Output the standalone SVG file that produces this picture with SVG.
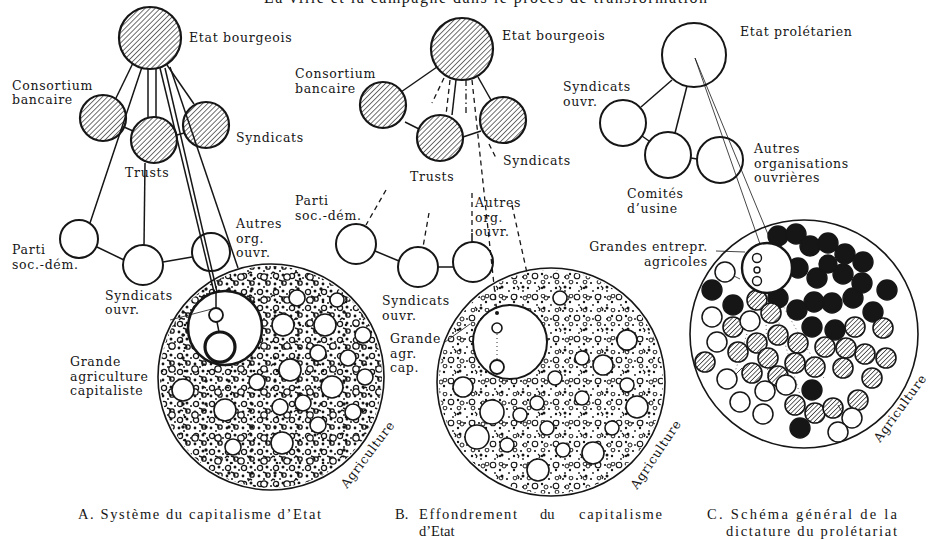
<svg xmlns="http://www.w3.org/2000/svg" width="931" height="540" viewBox="0 0 931 540">
<style>
.lbl{font-family:"DejaVu Serif","Liberation Serif",serif;font-size:12.5px;letter-spacing:0.7px;fill:#161616}
.cap{font-family:"Liberation Serif",serif;font-size:14.5px;fill:#161616}
.hc{fill:url(#hatch);stroke:#161616;stroke-width:2.2}
.wc{fill:#fff;stroke:#161616;stroke-width:2}
.big{fill:#fff;stroke:#161616;stroke-width:1.6}
.mc{fill:#fff;stroke:#161616;stroke-width:1.6}
.ln{stroke:#161616;stroke-width:1.5;fill:none}
.th{stroke:#161616;stroke-width:0.8;fill:none}
.dl{stroke:#161616;stroke-width:1.3;stroke-dasharray:5 4;fill:none}
.dd{stroke:#161616;stroke-width:1.3;stroke-dasharray:6 3 1.5 3;fill:none}
.dt{stroke:#555;stroke-width:0.9;stroke-dasharray:1 3;fill:none}
.cb{fill:#161616;stroke:#161616;stroke-width:1.4}
.ch{fill:url(#hatch2);stroke:#161616;stroke-width:1.6}
.cw{fill:#fff;stroke:#161616;stroke-width:1.5}
</style>
<defs>
<pattern id="hatch" width="3.6" height="3.6" patternUnits="userSpaceOnUse" patternTransform="rotate(45)">
<rect width="3.6" height="3.6" fill="#fff"/>
<line x1="0" y1="0" x2="0" y2="3.6" stroke="#222" stroke-width="1.3"/>
</pattern>
<pattern id="hatch2" width="3.2" height="3.2" patternUnits="userSpaceOnUse" patternTransform="rotate(45)">
<rect width="3.2" height="3.2" fill="#fff"/>
<line x1="0" y1="0" x2="0" y2="3.2" stroke="#222" stroke-width="1.4"/>
</pattern>
<pattern id="texA1" width="16" height="16" patternUnits="userSpaceOnUse">
<circle cx="4" cy="4" r="2.6" fill="none" stroke="#151515" stroke-width="1.3"/>
<circle cx="12" cy="11" r="2.2" fill="none" stroke="#151515" stroke-width="1.3"/>
<circle cx="11" cy="3" r="1.5" fill="#151515"/>
<circle cx="3" cy="12" r="1.4" fill="#151515"/>
<circle cx="8" cy="15" r="1" fill="#151515"/>
<circle cx="15" cy="6" r="1" fill="#151515"/>
<path d="M7 8 l3 1 l1 3" fill="none" stroke="#151515" stroke-width="1.5"/>
</pattern>
<pattern id="texA2" x="5" y="7" width="23" height="23" patternUnits="userSpaceOnUse">
<circle cx="6" cy="17" r="3.2" fill="#fff" stroke="#151515" stroke-width="1.3"/>
<circle cx="17" cy="6" r="1.7" fill="#151515"/>
<circle cx="19" cy="19" r="1.3" fill="#151515"/>
<path d="M13 14 l2 -2 l2 1" fill="none" stroke="#151515" stroke-width="1.4"/>
</pattern>
<pattern id="texB1" width="14" height="14" patternUnits="userSpaceOnUse">
<circle cx="3" cy="3" r="1.1" fill="#151515"/>
<circle cx="10" cy="8" r="1.2" fill="#151515"/>
<circle cx="5" cy="11" r="0.9" fill="#151515"/>
<circle cx="11" cy="2" r="1.9" fill="none" stroke="#151515" stroke-width="1"/>
</pattern>
<pattern id="texB2" x="4" y="9" width="21" height="21" patternUnits="userSpaceOnUse">
<circle cx="6" cy="15" r="2.8" fill="#fff" stroke="#151515" stroke-width="1.1"/>
<circle cx="15" cy="5" r="1.5" fill="#151515"/>
<circle cx="17" cy="16" r="2" fill="none" stroke="#151515" stroke-width="1"/>
<path d="M9 4 l2 2 l-1 2" fill="none" stroke="#151515" stroke-width="1.2"/>
</pattern>
<clipPath id="clipA"><circle cx="271" cy="377" r="111"/></clipPath>
<clipPath id="clipB"><circle cx="551" cy="382" r="112"/></clipPath>
</defs>
<rect width="931" height="540" fill="#fff"/>
<text x="264" y="3" textLength="443" style="font-family:'Liberation Serif',serif;font-size:16px;fill:#161616">La ville et la campagne dans le procès de transformation</text>

<!-- Panel A agriculture -->
<g id="agri-a">
<circle class="big" cx="271" cy="377" r="113"/>
<g clip-path="url(#clipA)">
<rect x="150" y="260" width="245" height="240" fill="url(#texA1)"/>
<rect x="150" y="260" width="245" height="240" fill="url(#texA2)"/>
</g>
<g class="mc">
<circle cx="297" cy="298" r="8"/><circle cx="337" cy="300" r="7"/><circle cx="283" cy="325" r="11"/><circle cx="325" cy="325" r="11"/>
<circle cx="363" cy="335" r="8"/><circle cx="318" cy="353" r="8"/><circle cx="348" cy="358" r="8"/><circle cx="290" cy="370" r="11"/>
<circle cx="257" cy="382" r="8"/><circle cx="332" cy="387" r="11"/><circle cx="365" cy="377" r="8"/><circle cx="183" cy="390" r="11"/>
<circle cx="225" cy="410" r="11"/><circle cx="280" cy="407" r="8"/><circle cx="303" cy="403" r="8"/><circle cx="353" cy="412" r="8"/>
<circle cx="318" cy="425" r="8"/><circle cx="282" cy="443" r="11"/><circle cx="233" cy="447" r="8"/>
</g>
<circle cx="225" cy="328" r="37" fill="#fff" stroke="#161616" stroke-width="2.6"/>
<circle cx="216" cy="315" r="7" fill="#fff" stroke="#161616" stroke-width="1.8"/>
<circle cx="220" cy="347" r="15" fill="#fff" stroke="#161616" stroke-width="3.2"/>
<text class="lbl" transform="translate(347,489) rotate(-53)">Agriculture</text>
<text class="lbl" x="70" y="366">Grande</text>
<text class="lbl" x="70" y="380.6">agriculture</text>
<text class="lbl" x="70" y="395.2">capitaliste</text>
</g>

<!-- Panel B agriculture -->
<g id="agri-b">
<circle class="big" cx="551" cy="382" r="114"/>
<g clip-path="url(#clipB)">
<rect x="430" y="262" width="245" height="240" fill="url(#texB1)"/>
<rect x="430" y="262" width="245" height="240" fill="url(#texB2)"/>
</g>
<g class="mc">
<circle cx="560" cy="298" r="7"/><circle cx="627" cy="340" r="10"/><circle cx="582" cy="358" r="7"/><circle cx="603" cy="365" r="10"/>
<circle cx="555" cy="378" r="7"/><circle cx="463" cy="387" r="10"/><circle cx="627" cy="385" r="7"/><circle cx="582" cy="398" r="7"/>
<circle cx="537" cy="403" r="7"/><circle cx="637" cy="407" r="11"/><circle cx="492" cy="412" r="12"/><circle cx="520" cy="415" r="7"/>
<circle cx="547" cy="428" r="7"/><circle cx="612" cy="428" r="7"/><circle cx="477" cy="437" r="12"/><circle cx="507" cy="445" r="7"/>
<circle cx="563" cy="450" r="7"/><circle cx="593" cy="453" r="11"/><circle cx="538" cy="470" r="11"/>
</g>
<circle cx="510" cy="342" r="37" fill="#fff" stroke="#161616" stroke-width="2"/>
<circle cx="497" cy="313" r="2" fill="#161616"/>
<circle cx="497" cy="328" r="5" fill="#fff" stroke="#161616" stroke-width="1.6"/>
<circle cx="497" cy="367" r="7" fill="#fff" stroke="#161616" stroke-width="1.8"/>
<text class="lbl" transform="translate(637,490) rotate(-56)">Agriculture</text>
<text class="lbl" x="390" y="343">Grande</text>
<text class="lbl" x="390" y="357.6">agr.</text>
<text class="lbl" x="390" y="372.2">cap.</text>
</g>

<!-- Panel C agriculture -->
<g id="agri-c">
<circle class="big" cx="804" cy="334" r="114"/>
<g class="dt">
<line x1="760" y1="292" x2="735" y2="372"/><line x1="765" y1="293" x2="768" y2="380"/>
<line x1="770" y1="292" x2="800" y2="395"/><line x1="774" y1="290" x2="825" y2="380"/>
</g>
<g class="cb">
<circle cx="778" cy="236" r="10"/><circle cx="796" cy="234" r="10"/><circle cx="810" cy="246" r="10"/><circle cx="828" cy="243" r="10"/>
<circle cx="845" cy="254" r="10"/><circle cx="863" cy="262" r="10"/><circle cx="843" cy="274" r="10"/><circle cx="887" cy="290" r="10"/>
<circle cx="873" cy="312" r="10"/><circle cx="853" cy="298" r="10"/><circle cx="832" cy="303" r="10"/><circle cx="814" cy="302" r="10"/>
<circle cx="797" cy="310" r="10"/><circle cx="812" cy="327" r="10"/><circle cx="835" cy="330" r="10"/><circle cx="778" cy="298" r="10"/>
<circle cx="733" cy="305" r="10"/><circle cx="712" cy="290" r="10"/><circle cx="798" cy="268" r="10"/><circle cx="817" cy="278" r="10"/>
<circle cx="828" cy="264" r="9"/><circle cx="862" cy="283" r="10"/><circle cx="812" cy="390" r="10"/><circle cx="800" cy="428" r="10"/>
</g>
<g class="ch">
<circle cx="757" cy="300" r="10"/><circle cx="771" cy="313" r="10"/><circle cx="733" cy="327" r="10"/><circle cx="778" cy="335" r="10"/>
<circle cx="757" cy="343" r="10"/><circle cx="798" cy="343" r="10"/><circle cx="825" cy="347" r="10"/><circle cx="846" cy="348" r="10"/>
<circle cx="865" cy="354" r="10"/><circle cx="855" cy="327" r="10"/><circle cx="883" cy="328" r="10"/><circle cx="886" cy="358" r="10"/>
<circle cx="705" cy="362" r="10"/><circle cx="738" cy="352" r="10"/><circle cx="768" cy="358" r="10"/><circle cx="752" cy="373" r="10"/>
<circle cx="778" cy="376" r="10"/><circle cx="795" cy="363" r="10"/><circle cx="815" cy="367" r="10"/><circle cx="843" cy="368" r="10"/>
<circle cx="872" cy="378" r="10"/><circle cx="858" cy="400" r="10"/><circle cx="795" cy="405" r="10"/><circle cx="815" cy="413" r="10"/>
<circle cx="833" cy="408" r="10"/>
</g>
<g class="cw">
<circle cx="725" cy="272" r="10"/><circle cx="712" cy="317" r="10"/><circle cx="750" cy="321" r="10"/><circle cx="717" cy="342" r="10"/>
<circle cx="727" cy="379" r="10"/><circle cx="765" cy="391" r="10"/><circle cx="786" cy="385" r="10"/><circle cx="740" cy="402" r="10"/>
<circle cx="763" cy="414" r="10"/><circle cx="852" cy="418" r="10"/><circle cx="838" cy="432" r="10"/>
</g>
<g class="th">
<line x1="734" y1="276" x2="740" y2="279"/><line x1="736" y1="374" x2="742" y2="368"/><line x1="842" y1="412" x2="838" y2="405"/>
</g>
<circle cx="767" cy="268" r="25" fill="#fff" stroke="#161616" stroke-width="2.4"/>
<circle cx="757" cy="258" r="4.5" fill="#fff" stroke="#161616" stroke-width="1.4"/>
<circle cx="757" cy="270" r="3" fill="#fff" stroke="#161616" stroke-width="1.4"/>
<circle cx="757" cy="281" r="4.5" fill="#fff" stroke="#161616" stroke-width="1.4"/>
<text class="lbl" transform="translate(880,443) rotate(-54)">Agriculture</text>
<text class="lbl" x="708" y="251" text-anchor="end">Grandes entrepr.</text>
<text class="lbl" x="708" y="265.6" text-anchor="end">agricoles</text>
</g>

<!-- Panel A nodes -->
<g id="etat-a"><circle class="hc" cx="150" cy="38" r="31"/><text class="lbl" x="189" y="42">Etat bourgeois</text></g>
<g id="consortium-a"><circle class="hc" cx="103" cy="118" r="23"/><text class="lbl" x="12" y="89.5">Consortium</text><text class="lbl" x="12" y="104.1">bancaire</text></g>
<g id="trusts-a"><circle class="hc" cx="154" cy="140" r="23"/><text class="lbl" x="125" y="177">Trusts</text></g>
<g id="syndicats-a"><circle class="hc" cx="206" cy="125" r="23"/><text class="lbl" x="236" y="142">Syndicats</text></g>
<g id="parti-a"><circle class="wc" cx="79" cy="239" r="19"/><text class="lbl" x="12" y="254">Parti</text><text class="lbl" x="12" y="268.6">soc.-dém.</text></g>
<g id="syndouvr-a"><circle class="wc" cx="143" cy="265" r="20"/><text class="lbl" x="105" y="299.5">Syndicats</text><text class="lbl" x="105" y="314.1">ouvr.</text></g>
<g id="autres-a"><circle class="wc" cx="211" cy="252" r="19"/><text class="lbl" x="236" y="228">Autres</text><text class="lbl" x="236" y="242.6">org.</text><text class="lbl" x="236" y="257.2">ouvr.</text></g>

<!-- Panel B nodes -->
<g id="etat-b"><circle class="hc" cx="462" cy="49" r="31"/><text class="lbl" x="502" y="40">Etat bourgeois</text></g>
<g id="consortium-b"><circle class="hc" cx="383" cy="105" r="23"/><text class="lbl" x="295" y="78">Consortium</text><text class="lbl" x="295" y="92.6">bancaire</text></g>
<g id="trusts-b"><circle class="hc" cx="440" cy="138" r="23"/><text class="lbl" x="410" y="181">Trusts</text></g>
<g id="syndicats-b"><circle class="hc" cx="503" cy="120" r="23"/><text class="lbl" x="503" y="165">Syndicats</text></g>
<g id="parti-b"><circle class="wc" cx="356" cy="244" r="20"/><text class="lbl" x="295" y="205">Parti</text><text class="lbl" x="295" y="219.6">soc.-dém.</text></g>
<g id="syndouvr-b"><circle class="wc" cx="418" cy="267" r="20"/><text class="lbl" x="382" y="305">Syndicats</text><text class="lbl" x="382" y="319.6">ouvr.</text></g>
<g id="autres-b"><circle class="wc" cx="473" cy="262" r="20"/><text class="lbl" x="475" y="207">Autres</text><text class="lbl" x="475" y="221.6">org.</text><text class="lbl" x="475" y="236.2">ouvr.</text></g>

<!-- Panel C nodes -->
<g id="etat-c"><circle class="wc" cx="694" cy="55" r="32"/><text class="lbl" x="740" y="36">Etat prolétarien</text></g>
<g id="syndicats-c"><circle class="wc" cx="623" cy="123" r="23"/><text class="lbl" x="563" y="91">Syndicats</text><text class="lbl" x="563" y="105.6">ouvr.</text></g>
<g id="comites-c"><circle class="wc" cx="668" cy="155" r="23"/><text class="lbl" x="627" y="198">Comités</text><text class="lbl" x="627" y="212.6">d’usine</text></g>
<g id="autres-c"><circle class="wc" cx="720" cy="160" r="23"/><text class="lbl" x="754" y="153">Autres</text><text class="lbl" x="754" y="167.6">organisations</text><text class="lbl" x="754" y="182.2">ouvrières</text></g>

<g id="connectors">
<g class="ln">
<line x1="133" y1="63" x2="116" y2="98"/>
<line x1="142" y1="67" x2="90" y2="223"/>
<line x1="148" y1="69" x2="148" y2="117"/>
<line x1="156" y1="69" x2="156" y2="117"/>
<line x1="167" y1="65" x2="194" y2="104"/>
<line x1="124" y1="127" x2="133" y2="131"/>
<line x1="177" y1="135" x2="184" y2="133"/>
<line x1="145" y1="163" x2="144" y2="245"/>
<line x1="97" y1="247" x2="124" y2="260"/>
<line x1="163" y1="262" x2="192" y2="257"/>
<line x1="160" y1="68" x2="214" y2="292"/>
<line x1="165" y1="68" x2="217" y2="292"/>
<line x1="170" y1="67" x2="238" y2="268"/>
<line x1="216" y1="292" x2="216" y2="308"/>
<line x1="217" y1="322" x2="219" y2="332"/>
<line x1="437" y1="67" x2="401" y2="92"/>
<line x1="405" y1="122" x2="419" y2="129"/>
<line x1="463" y1="137" x2="481" y2="131"/>
<line x1="478" y1="77" x2="491" y2="100"/>
<line x1="456" y1="80" x2="452" y2="115"/>
<line x1="375" y1="251" x2="399" y2="261"/>
<line x1="438" y1="267" x2="453" y2="267"/>
<line x1="472" y1="233" x2="472" y2="242"/>
<line x1="672" y1="80" x2="641" y2="107"/>
<line x1="687" y1="86" x2="675" y2="133"/>
<line x1="642" y1="136" x2="649" y2="141"/>
<line x1="691" y1="158" x2="697" y2="159"/>
</g>
<g class="th">
<line x1="170" y1="320" x2="212" y2="309"/>
<line x1="445" y1="342" x2="470" y2="324"/>
<line x1="695" y1="58" x2="760" y2="244"/>
<line x1="695" y1="58" x2="772" y2="244"/>
<line x1="716" y1="251" x2="745" y2="252"/>
</g>
<g class="dl">
<line x1="444" y1="78" x2="432" y2="103"/>
<line x1="386" y1="190" x2="366" y2="225"/>
<line x1="450" y1="80" x2="446" y2="115"/>
<line x1="472" y1="80" x2="497" y2="313"/>
<line x1="489" y1="144" x2="497" y2="160"/>
<line x1="512" y1="205" x2="527" y2="273"/>
<line x1="472" y1="193" x2="472" y2="232"/>
<line x1="429" y1="213" x2="423" y2="247"/>
</g>
<line class="dd" x1="466" y1="80" x2="466" y2="116"/>
<line class="dt" x1="497" y1="334" x2="497" y2="360" style="stroke:#161616"/>
</g>

<text class="cap" x="78" y="519" textLength="243">A. Système du capitalisme d’Etat</text>
<text class="cap" x="395" y="519">B.</text>
<text class="cap" x="419" y="519" textLength="98">Effondrement</text>
<text class="cap" x="540" y="519">du</text>
<text class="cap" x="579" y="519" textLength="83">capitalisme</text>
<text class="cap" x="419" y="535.5">d’Etat</text>
<text class="cap" x="707" y="519" textLength="190">C. Schéma général de la</text>
<text class="cap" x="726" y="535.5" textLength="171">dictature du prolétariat</text>
</svg>
